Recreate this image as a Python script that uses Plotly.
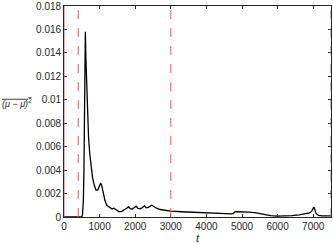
import plotly.graph_objects as go

# time samples and the averaged squared deviation
t = [0, 500, 520, 545, 560, 575, 590, 600, 615, 640, 665, 690, 720, 760, 800,
     850, 900, 950, 990, 1030, 1060, 1100, 1150, 1200, 1280, 1350, 1400, 1440,
     1500, 1550, 1620, 1700, 1760, 1810, 1860, 1920, 1970, 2025, 2080, 2140,
     2200, 2260, 2310, 2370, 2420, 2465, 2520, 2600, 2700, 2800, 2900, 3000,
     3300, 3600, 4000, 4400, 4700, 4760, 4800, 4850, 5000, 5200, 5400, 5600,
     5800, 6000, 6200, 6400, 6600, 6800, 6900, 6960, 7000, 7020, 7040, 7080,
     7150, 7250, 7500]
v = [0, 0, 0.0002, 0.0015, 0.004, 0.0085, 0.0135, 0.0158, 0.0135, 0.0108,
     0.0085, 0.0068, 0.0055, 0.0044, 0.0034, 0.0027, 0.0023, 0.0023, 0.0026,
     0.0029, 0.0027, 0.0021, 0.0014, 0.001, 0.0008, 0.00068, 0.00075, 0.00066,
     0.0005, 0.00045, 0.00048, 0.0006, 0.00075, 0.00088, 0.00072, 0.00068,
     0.00078, 0.00092, 0.00074, 0.0007, 0.0008, 0.00095, 0.00078, 0.00082,
     0.00092, 0.001, 0.0009, 0.00075, 0.00064, 0.00058, 0.00053, 0.0005,
     0.00045, 0.0004, 0.00035, 0.0003, 0.00026, 0.0003, 0.00043, 0.00045,
     0.00045, 0.00041, 0.00035, 0.00022, 0.00011, 0.00008, 0.00009, 0.00012,
     0.00018, 0.00027, 0.00035, 0.0005, 0.00075, 0.00085, 0.0007, 0.0003,
     0.00014, 0.0001, 0.0001]

solid_marks = [0]
dashed_marks = [400, 3000, 7500]

xticks = [0, 1000, 2000, 3000, 4000, 5000, 6000, 7000]
yticks = [0, 0.002, 0.004, 0.006, 0.008, 0.01, 0.012, 0.014, 0.016, 0.018]
ylabels = ["0", "0.002", "0.004", "0.006", "0.008", "0.01", "0.012", "0.014", "0.016", "0.018"]

fig = go.Figure()
fig.add_trace(go.Scatter(x=t, y=v, mode="lines", line=dict(color="black", width=1.3),
                         showlegend=False))

for xm in solid_marks:
    fig.add_vline(x=xm, line=dict(color="#ff5050", width=1))
for xm in dashed_marks:
    fig.add_vline(x=xm, line=dict(color="#ff5050", width=1, dash="dash"))

axis_style = dict(showgrid=False, zeroline=False, showline=True, linecolor="#262626",
                  linewidth=0.8, mirror="ticks", ticks="inside", ticklen=3,
                  tickcolor="#262626", tickfont=dict(size=10, color="#262626"),
                  automargin=False)

fig.update_xaxes(range=[0, 7500], tickvals=xticks, **axis_style)
fig.update_yaxes(range=[0, 0.018], tickvals=yticks, ticktext=ylabels, **axis_style)

fig.add_annotation(text="<i>t</i>", xref="paper", yref="paper", x=0.5, y=-0.1,
                   yanchor="middle", showarrow=False, font=dict(size=11, color="#262626"))
fig.add_annotation(text="<span style='text-decoration:overline'><i>(μ − μ̄)</i><sup>2</sup></span>",
                   xref="paper", yref="paper", x=-0.24, y=0.54, xanchor="left",
                   showarrow=False, font=dict(size=9, color="#262626"))

fig.update_layout(width=333, height=243, margin=dict(l=64, r=2, t=6, b=26),
                  plot_bgcolor="white", paper_bgcolor="white",
                  font=dict(family="Liberation Sans, Arial, sans-serif"))

# drop the browser's default page margin so the figure sits at the window corner
fig.write_html("out.html", config={"displayModeBar": False},
               post_script="document.body.style.margin='0';")
